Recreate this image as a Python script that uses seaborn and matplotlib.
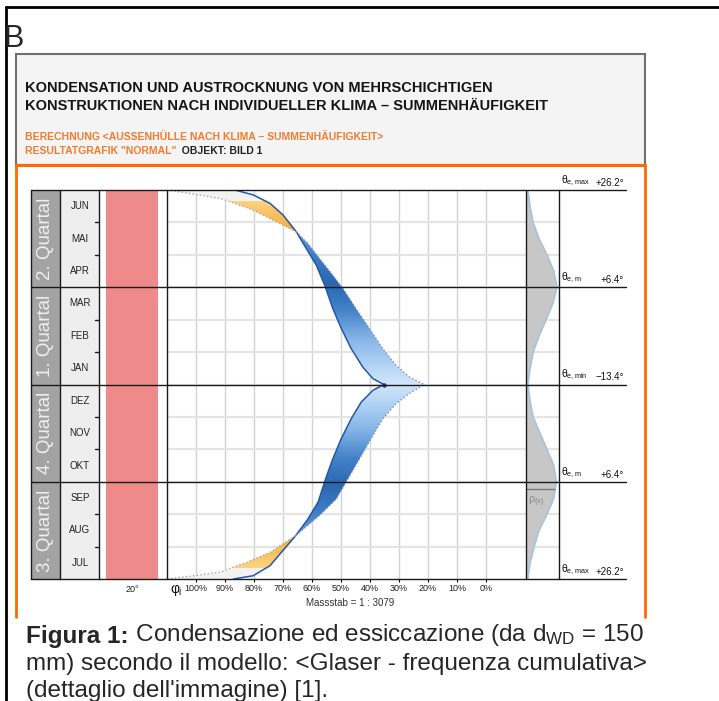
import numpy as np
import matplotlib.pyplot as plt
import matplotlib.colors as mcolors
from matplotlib.patches import Rectangle, Polygon
import seaborn as sns

sns.set_style("white")
plt.rcParams["font.family"] = ["Liberation Sans", "DejaVu Sans"]
plt.rcParams["mathtext.fontset"] = "custom"
plt.rcParams["mathtext.rm"] = "Liberation Sans"
plt.rcParams["mathtext.it"] = "Liberation Sans"
plt.rcParams["mathtext.sf"] = "Liberation Sans"

# ---- values ----
months = ["JUN", "MAI", "APR", "MAR", "FEB", "JAN",
          "DEZ", "NOV", "OKT", "SEP", "AUG", "JUL"]
quarters = ["2. Quartal", "1. Quartal", "4. Quartal", "3. Quartal"]
theta_names = ["max", "m", "min", "m", "max"]
theta_vals = [26.2, 6.4, -13.4, 6.4, 26.2]
phi_ticks = [100, 90, 80, 70, 60, 50, 40, 30, 20, 10, 0]
theta_inner = 20

# t = months counted from the top edge, phi = relative humidity in %
# solid edge of the band (left)
solid_t = [0.00, 0.15, 0.34, 0.41, 0.77, 1.29, 1.80, 2.32, 2.94, 3.66, 4.27, 4.89,
           5.46, 5.82, 6.00,
           6.18, 6.54, 7.06, 7.67, 8.29, 8.91, 9.63, 10.15, 10.66, 11.12, 11.59,
           11.67, 11.90, 12.00]
solid_phi = [86.6, 80.3, 76.1, 74.5, 70.0, 65.4, 62.0, 58.5, 55.6, 52.8, 49.9, 46.5,
             42.5, 39.0, 35.2,
             39.0, 43.0, 46.5, 49.9, 52.8, 55.3, 57.9, 61.4, 65.6, 70.0, 74.5,
             76.0, 80.3, 87.1]

# dotted edge of the band (right)
dry_t = [1.29, 1.65, 2.11, 2.63, 3.04, 3.66, 4.27, 4.89, 5.41, 5.77, 6.00,
         6.28, 6.59, 7.06, 7.67, 8.29, 8.91, 9.53, 10.04, 10.66]
dry_phi = [65.4, 61.4, 57.4, 52.8, 49.3, 44.8, 40.2, 35.6, 31.0, 26.4, 21.3,
           26.4, 31.0, 35.6, 39.6, 43.6, 47.6, 51.6, 57.4, 65.6]

# grey dotted saturation lines
sat_top_t = [0.00, 0.15, 0.26, 0.34, 0.62, 0.88, 1.29]
sat_top_phi = [110.0, 99.0, 91.7, 88.9, 80.3, 74.5, 65.4]
sat_bot_t = [10.66, 11.18, 11.49, 11.67, 11.79, 11.88, 12.00]
sat_bot_phi = [65.6, 74.5, 82.6, 88.3, 91.7, 99.0, 110.0]

# temperature distribution
rho_t = [0.0, 0.5, 1.0, 1.5, 2.0, 2.5, 3.0, 3.5, 4.0, 4.5, 5.0, 5.5, 6.0,
         6.5, 7.0, 7.5, 8.0, 8.5, 9.0, 9.5, 10.0, 10.5, 11.0, 11.5, 12.0]
rho = [0.06, 0.13, 0.23, 0.42, 0.68, 0.90, 1.00, 0.87, 0.65, 0.42, 0.23, 0.13, 0.06,
       0.13, 0.23, 0.45, 0.68, 0.90, 0.98, 0.90, 0.68, 0.42, 0.26, 0.13, 0.06]

# ---- layout (pixels) ----
W, H = 719, 701
TOP, BOT = 190, 579
MONTH = (BOT - TOP) / 12


def rect(x0, y0, x1, y1):
    return [x0 / W, 1 - y1 / H, (x1 - x0) / W, (y1 - y0) / H]


def ypix(t):
    return TOP + t * MONTH


fig = plt.figure(figsize=(W / 100, H / 100), dpi=100)
bg = fig.add_axes([0, 0, 1, 1], zorder=0)
bg.set_xlim(0, W)
bg.set_ylim(H, 0)
bg.axis("off")

# outer frame and letter
bg.plot([6, W], [7, 7], color="black", lw=2)
bg.plot([6, 6], [7, H], color="black", lw=2)
bg.text(3, 47, "B", fontsize=22, va="baseline")

# header box
bg.add_patch(Rectangle((16, 54), 629, 111, facecolor="#f4f4f4", edgecolor="#6f6f6f", lw=1.5))
bg.text(25, 92, "KONDENSATION UND AUSTROCKNUNG VON MEHRSCHICHTIGEN",
        fontsize=10.5, weight="bold", color="#151515", va="baseline")
bg.text(25, 110, "KONSTRUKTIONEN NACH INDIVIDUELLER KLIMA – SUMMENHÄUFIGKEIT",
        fontsize=10.5, weight="bold", color="#151515", va="baseline")
orange = "#f47c2c"
bg.text(25, 140, "BERECHNUNG <AUSSENHÜLLE NACH KLIMA – SUMMENHÄUFIGKEIT>",
        fontsize=7.5, weight="bold", color=orange, va="baseline")
r1 = bg.text(25, 154, 'RESULTATGRAFIK "NORMAL"', fontsize=7.5, weight="bold",
             color=orange, va="baseline")
bg.annotate("  OBJEKT: BILD 1", xy=(1, 0), xycoords=r1, va="bottom",
            fontsize=7.5, weight="bold", color="#222222")
bg.plot([16, 645], [165, 165], color="#ff6a00", lw=2.2)
bg.plot([16, 16], [165, 617], color="#ff6a00", lw=2)
bg.plot([645, 645], [165, 617], color="#ff6a00", lw=2)

# left panel: quarters, months, inner temperature band
bg.add_patch(Rectangle((31, TOP), 29, BOT - TOP, color="#a3a3a3", lw=0))
bg.add_patch(Rectangle((60, TOP), 39, BOT - TOP, color="#eeeeee", lw=0))
bg.add_patch(Rectangle((106, TOP), 52, BOT - TOP, color="#ef8a8a", lw=0))
for i, q in enumerate(quarters):
    bg.text(46, ypix(3 * i + 1.5), q, rotation=90, ha="center", va="center",
            fontsize=13.5, color="#efefef")
for i, m in enumerate(months):
    bg.text(80, ypix(i + 0.5), m, ha="center", va="center", fontsize=7, color="#222222")
bg.text(132, 590, f"{theta_inner}°", ha="center", va="center", fontsize=6.5, color="#222222")
bg.text(176, 590, r"$\varphi_{i}$", ha="center", va="center", fontsize=10, color="#111111")
bg.text(350, 603, "Massstab = 1 : 3079", ha="center", va="center", fontsize=7, color="#333333")

# caption
c1 = bg.text(26, 643, "Figura 1:", fontsize=17.5, weight="bold", va="baseline")
bg.annotate(r" Condensazione ed essiccazione (da d$_{\mathrm{WD}}$ = 150", xy=(1, 0),
            xycoords=c1, va="bottom", fontsize=17.5)
bg.text(26, 670, "mm) secondo il modello: <Glaser - frequenza cumulativa>",
        fontsize=17.5, va="baseline")
bg.text(26, 697, "(dettaglio dell'immagine) [1].", fontsize=17.5, va="baseline")

# ---- main diagram ----
ax = fig.add_axes(rect(167, TOP, 526, BOT), zorder=2)
ax.patch.set_alpha(0)
for s in ax.spines.values():
    s.set_visible(False)

st = np.array(solid_t)
sp = np.array(solid_phi)
dt = np.array(dry_t)
dp = np.array(dry_phi)
XL = (110, -13.8)

tt = np.linspace(0, 12, 600)
dist = np.abs(tt - 6)


def ramp(nodes, cols):
    rgb = np.array([mcolors.to_rgb(c) for c in cols])
    img = np.stack([np.interp(dist, nodes, rgb[:, k]) for k in range(3)], axis=-1)
    return img[:, None, :]


blue_img = ramp([0, 0.5, 1.4, 2.3, 3.1, 3.9, 4.7],
                ["#d2e6fb", "#b8d6f6", "#86b5e8", "#4281c7", "#2a67b1", "#3f7dc5", "#6a9ed8"])
orange_img = ramp([4.65, 5.0, 5.7], ["#f2a534", "#f7b84e", "#fdd684"])


def clipped_fill(xs, ys, img):
    poly = Polygon(np.column_stack([xs, ys]), closed=True, facecolor="none",
                   edgecolor="none", transform=ax.transData)
    ax.add_patch(poly)
    im = ax.imshow(img, extent=(XL[0], XL[1], 12, 0), aspect="auto",
                   interpolation="bilinear", zorder=1)
    im.set_clip_path(poly)


# blue band (top and bottom half)
for lo, hi in [(1.29, 6.0), (6.0, 10.66)]:
    ms = (st >= lo) & (st <= hi)
    md = (dt >= lo) & (dt <= hi)
    xs = np.concatenate([sp[ms], dp[md][::-1]])
    ys = np.concatenate([st[ms], dt[md][::-1]])
    clipped_fill(xs, ys, blue_img)

# condensation areas (orange) and the light strip next to the edge
halves = [(sat_top_t, sat_top_phi, (0.34, 1.29), (0.0, 0.34)),
          (sat_bot_t, sat_bot_phi, (10.66, 11.67), (11.67, 12.0))]
for sat_t, sat_phi, orange_rng, grey_rng in halves:
    at = np.array(sat_t)
    apv = np.array(sat_phi)
    for (lo, hi), kind in [(orange_rng, "orange"), (grey_rng, "grey")]:
        ms = (st >= lo) & (st <= hi)
        ma = (at >= lo) & (at <= hi)
        xs = np.concatenate([sp[ms], apv[ma][::-1]])
        ys = np.concatenate([st[ms], at[ma][::-1]])
        if kind == "orange":
            clipped_fill(xs, ys, orange_img)
        else:
            ax.fill(xs, ys, color="#f2f2f2", lw=0, zorder=1)

# boundary lines
sns.lineplot(x=solid_phi, y=solid_t, orient="y", sort=False, estimator=None,
             color="#2557a7", lw=1.1, ax=ax, zorder=4)
sns.lineplot(x=dry_phi, y=dry_t, orient="y", sort=False, estimator=None,
             color="#8193ad", lw=1.0, linestyle=":", ax=ax, zorder=4)
for sat_t, sat_phi in [(sat_top_t, sat_top_phi), (sat_bot_t, sat_bot_phi)]:
    sns.lineplot(x=sat_phi, y=sat_t, orient="y", sort=False, estimator=None,
                 color="#a8a8a8", lw=1.0, linestyle=":", ax=ax, zorder=4)
k6 = solid_t.index(6.0)
ax.plot(solid_phi[k6], solid_t[k6], marker="o", ms=2.2, color="#1c3f7a", zorder=5)

ax.set_xlim(*XL)
ax.set_ylim(12, 0)
ax.set_xticks(phi_ticks)
ax.set_xticklabels([f"{p}%" for p in phi_ticks])
ax.set_yticks(np.arange(1, 12))
ax.set_yticklabels([])
ax.grid(axis="x", color="#d3d3d3", lw=1)
ax.grid(axis="y", color="#e4e4e4", lw=1.6)
ax.set_axisbelow(True)
ax.tick_params(axis="y", left=False, length=0)
ax.tick_params(axis="x", bottom=True, length=2.2, width=0.8, color="black",
               labelcolor="#222222", labelsize=6.5, pad=1.5)
ax.set_xlabel("")
ax.set_ylabel("")

# ---- temperature distribution column ----
ax_r = fig.add_axes(rect(526, TOP, 559, BOT), zorder=2)
ax_r.patch.set_alpha(0)
for s in ax_r.spines.values():
    s.set_visible(False)
ax_r.fill_betweenx(rho_t, 0, rho, color="#c7c7c7", lw=0, zorder=1)
sns.lineplot(x=rho, y=rho_t, orient="y", sort=False, estimator=None,
             color="#a9c4d8", lw=1.3, ax=ax_r, zorder=2)
ax_r.hlines(9.22, 0, 0.95, color="#7a7a7a", lw=1, zorder=3)
ax_r.text(0.06, 9.62, r"$\rho_{(x)}$", fontsize=8, color="#8a8a8a", va="center", zorder=3)
ax_r.set_xlim(0, 1.07)
ax_r.set_ylim(12, 0)
ax_r.set_xticks([])
ax_r.set_yticks(np.arange(1, 12))
ax_r.set_yticklabels([])
ax_r.tick_params(left=False, bottom=False)
ax_r.grid(axis="y", color="#e4e4e4", lw=1.6)
ax_r.set_axisbelow(True)
ax_r.set_xlabel("")
ax_r.set_ylabel("")

# ---- black frame lines and temperature labels on top ----
fg = fig.add_axes([0, 0, 1, 1], zorder=3)
fg.patch.set_alpha(0)
fg.set_xlim(0, W)
fg.set_ylim(H, 0)
fg.axis("off")
for k in range(5):
    y = ypix(3 * k)
    fg.plot([31, 626], [y, y], color="#1a1a1a", lw=1)
    fg.text(561, y - 2, r"$\theta_{\mathrm{e,%s}}$" % theta_names[k], fontsize=7.5,
            va="bottom", ha="left", color="#111111")
    fg.text(624, y - 2, f"{theta_vals[k]:+.1f}°".replace("-", "−"), fontsize=7,
            va="bottom", ha="right", color="#111111")
for x in [31, 60, 99, 167, 526, 559]:
    fg.plot([x, x], [TOP, BOT], color="#1a1a1a", lw=1)
for i in range(1, 12):
    if i % 3:
        fg.plot([95, 99], [ypix(i), ypix(i)], color="#1a1a1a", lw=1)

fig.savefig("out.png", dpi=100)
